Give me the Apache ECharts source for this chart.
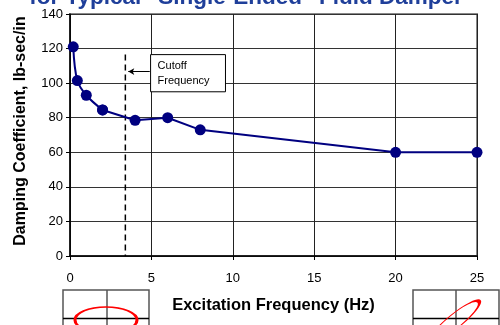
<!DOCTYPE html>
<html><head><meta charset="utf-8">
<script src="https://cdn.jsdelivr.net/npm/echarts@6/dist/echarts.min.js"></script>
<style>html,body{margin:0;padding:0;background:#fff}#c{width:500px;height:325px}</style>
</head><body><div id="c"></div>
<script>
var titleText = 'for Typical "Single-Ended" Fluid Damper';
var xName = 'Excitation Frequency (Hz)';
var yName = 'Damping Coefficient, lb-sec/in';
var freq = [0.2, 0.45, 1, 2, 4, 6, 8, 20, 25];
var damping = [121, 101.5, 93, 84.5, 78.5, 80, 73, 60, 60];
var cutoffX = 3.4;
var cutoffTop = 116.5;
var noteLines = ['Cutoff', 'Frequency'];

var pts = freq.map(function(f,i){return [f, damping[i]];});
var chart = echarts.init(document.getElementById('c'), null, {renderer:'canvas'});
var F = 'Liberation Sans, Arial, sans-serif';
var option = {
  animation:false,
  grid:{left:70, right:23, top:14, bottom:69, show:true, borderColor:'#888', borderWidth:2, backgroundColor:'#fff'},
  xAxis:{type:'value', min:0, max:25, interval:5,
    name:xName, nameLocation:'middle', nameGap:41,
    nameTextStyle:{fontFamily:F, fontWeight:'bold', fontSize:16.5, color:'#000'},
    axisLine:{onZero:false, lineStyle:{color:'#000', width:1.5}},
    axisTick:{show:true, length:4, inside:false, lineStyle:{color:'#000'}},
    axisLabel:{fontFamily:F, fontSize:13, color:'#000', margin:16},
    splitLine:{show:true, lineStyle:{color:'#222', width:1}}},
  yAxis:{type:'value', min:0, max:140, interval:20,
    name:yName, nameLocation:'middle', nameGap:41, nameRotate:90,
    nameTextStyle:{fontFamily:F, fontWeight:'bold', fontSize:16, color:'#000', padding:[0,0,0,8]},
    axisLine:{show:true, lineStyle:{color:'#000', width:1.5}},
    axisTick:{show:true, length:4, lineStyle:{color:'#000'}},
    axisLabel:{fontFamily:F, fontSize:13, color:'#000', margin:7},
    splitLine:{show:true, lineStyle:{color:'#333', width:1}}},
  series:[
    {type:'line', data:pts.slice(0,4), smooth:0.35, symbol:'circle', symbolSize:11,
     lineStyle:{color:'#000080', width:2}, itemStyle:{color:'#000080'}, z:5},
    {type:'line', data:pts.slice(3), smooth:false, symbol:'circle', symbolSize:11,
     lineStyle:{color:'#000080', width:2}, itemStyle:{color:'#000080'}, z:5},
    {type:'line', data:[[cutoffX, cutoffTop],[cutoffX, 0]], symbol:'none',
     lineStyle:{color:'#000', width:1.5, type:[6,4]}, z:4,
     markLine:{silent:true, symbol:['none','arrow'], symbolSize:[5,6], label:{show:false},
       lineStyle:{color:'#000', width:1, type:'solid'},
       data:[[{coord:[4.9, 106.7]},{coord:[3.58, 106.7]}]]}}
  ]
};
chart.setOption(option);

var p1 = chart.convertToPixel({gridIndex:0}, [4.95, 116.5]);
var p2 = chart.convertToPixel({gridIndex:0}, [9.55, 95]);
var insetLine = {stroke:'#555', lineWidth:1.5};
chart.setOption({graphic:[
  {type:'text', style:{x:246, y:-2, text:titleText, font:'bold 22.5px '+F, fill:'#1f3f9a', textAlign:'center', textVerticalAlign:'middle'}, z:100, silent:true},
  {type:'rect', shape:{x:p1[0], y:p1[1], width:p2[0]-p1[0], height:p2[1]-p1[1]}, style:{fill:'#fff', stroke:'#000', lineWidth:1}, z:50},
  {type:'text', style:{x:p1[0]+7, y:p1[1]+4, text:noteLines.join('\n'), font:'11px '+F, fill:'#000', lineHeight:15}, z:51},
  {type:'rect', shape:{x:63, y:290, width:86, height:50}, style:{fill:'#fff', stroke:'#555', lineWidth:1.5}, z:60},
  {type:'line', shape:{x1:107, y1:290, x2:107, y2:330}, style:insetLine, z:61},
  {type:'line', shape:{x1:63, y1:318.5, x2:149, y2:318.5}, style:{stroke:'#000', lineWidth:1.5}, z:61},
  {type:'circle', x:106, y:320, scaleX:31, scaleY:13, shape:{cx:0, cy:0, r:1}, style:{fill:'none', stroke:'#f00', lineWidth:2, strokeNoScale:true}, z:62},
  {type:'rect', shape:{x:413, y:290, width:86, height:50}, style:{fill:'#fff', stroke:'#555', lineWidth:1.5}, z:60},
  {type:'line', shape:{x1:456, y1:290, x2:456, y2:330}, style:insetLine, z:61},
  {type:'line', shape:{x1:413, y1:318.5, x2:499, y2:318.5}, style:{stroke:'#000', lineWidth:1.5}, z:61},
  {type:'circle', x:455, y:321, rotation:0.68, scaleX:31, scaleY:7, shape:{cx:0, cy:0, r:1}, style:{fill:'none', stroke:'#f00', lineWidth:2, strokeNoScale:true}, z:62}
]});
</script></body></html>
